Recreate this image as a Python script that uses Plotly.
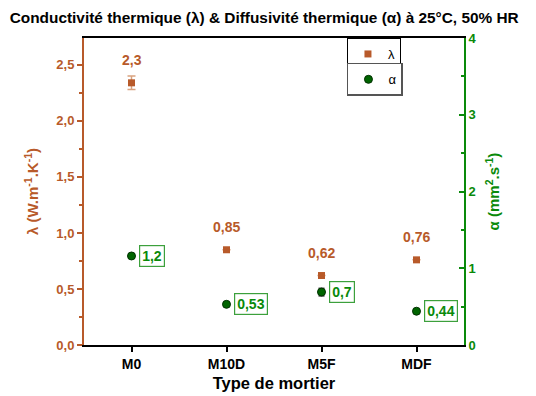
import plotly.graph_objects as go

categories = ["M0", "M10D", "M5F", "MDF"]
lam = [2.34, 0.85, 0.62, 0.76]
lam_err = [0.06, 0.0, 0.0, 0.0]
lam_labels = ["2,3", "0,85", "0,62", "0,76"]
alpha = [1.16, 0.53, 0.69, 0.44]
alpha_err = [0.03, 0.02, 0.05, 0.02]
alpha_labels = ["1,2", "0,53", "0,7", "0,44"]

BROWN = "#B85A2A"
GREEN = "#0A8A0A"
FONT = "Arial, 'Liberation Sans', sans-serif"

fig = go.Figure()
fig.add_trace(go.Scatter(
    x=categories, y=lam, mode="markers", name="λ",
    marker=dict(symbol="square", size=7, color=BROWN),
    error_y=dict(type="data", array=lam_err, color="#D9A27F", thickness=1.5, width=4),
    legend="legend", yaxis="y", showlegend=True,
))
fig.add_trace(go.Scatter(
    x=categories, y=alpha, mode="markers", name="α",
    marker=dict(symbol="circle", size=8, color="#006400", line=dict(color="#003000", width=1)),
    error_y=dict(type="data", array=alpha_err, color="#555555", thickness=1.5, width=3),
    legend="legend2", yaxis="y2", showlegend=True,
))

for c, v, t in zip(categories, lam, lam_labels):
    fig.add_annotation(x=c, y=v, yref="y", text=f"<b>{t}</b>", showarrow=False,
                       yshift=23, font=dict(color=BROWN, size=14, family=FONT))
for c, v, t in zip(categories, alpha, alpha_labels):
    fig.add_annotation(x=c, y=v, yref="y2", text=f"<b>{t}</b>", showarrow=False,
                       xanchor="left", xshift=7, font=dict(color=GREEN, size=14, family=FONT),
                       bordercolor="#3CA03C", borderwidth=1.2, borderpad=2, bgcolor="white")

# page body has an 8px offset; margins compensate so the chart lands where the reference has it
fig.update_layout(
    width=536, height=396,
    margin=dict(l=76, r=80, t=30, b=59),
    showlegend=True,
    paper_bgcolor="white", plot_bgcolor="white",
    separators=", ",
    font=dict(family=FONT, size=12, color="black"),
    title=dict(text="<b>Conductivité thermique (λ) & Diffusivité thermique (α) à 25°C, 50% HR</b>",
               x=0.478, xanchor="center", y=1 - 10 / 396, yanchor="middle",
               font=dict(size=15.4, color="black", family=FONT)),
    xaxis=dict(
        range=[-0.5, 3.5], showline=True, linecolor="black", linewidth=2, mirror=True,
        ticks="outside", tickcolor="black", ticklen=5, tickwidth=2,
        tickvals=categories, ticktext=[f"<b>{c}</b>" for c in categories],
        tickfont=dict(size=14, color="black", family=FONT),
        showgrid=False, zeroline=False, automargin=False,
        title=dict(text="<b>Type de mortier</b>", font=dict(size=16.5, color="black", family=FONT), standoff=7),
        minor=dict(ticks="outside", ticklen=3, tickcolor="black", tickwidth=2, dtick=0.5, tick0=-0.5),
    ),
    yaxis=dict(
        range=[0, 2.74], dtick=0.5, tickformat=".1f", showline=True, linecolor=BROWN, linewidth=2,
        ticks="outside", tickcolor=BROWN, ticklen=5, tickwidth=1.5,
        tickfont=dict(size=13, color=BROWN, family=FONT, weight="bold"), showgrid=False, zeroline=False,
        minor=dict(ticks="outside", ticklen=3, tickcolor=BROWN, dtick=0.25), automargin=False,
        title=dict(text="<b>λ (W.m<sup>-1</sup>.K<sup>-1</sup>)</b>", font=dict(size=15, color=BROWN, family=FONT), standoff=14),
    ),
    yaxis2=dict(
        range=[0, 4], dtick=1, overlaying="y", side="right", showline=True, linecolor=GREEN, linewidth=2,
        ticks="inside", tickcolor=GREEN, ticklen=5, tickwidth=1.5,
        tickfont=dict(size=13, color=GREEN, family=FONT, weight="bold"), showgrid=False, zeroline=False,
        minor=dict(ticks="inside", ticklen=3, tickcolor=GREEN, dtick=0.5), automargin=False,
        title=dict(text="<b>α (mm<sup>2</sup>.s<sup>-1</sup>)</b>", font=dict(size=15, color=GREEN, family=FONT), standoff=13),
    ),
    legend=dict(x=0.692, y=1.0, xanchor="left", yanchor="top", bordercolor="black", borderwidth=1,
                bgcolor="white", font=dict(size=13, family=FONT), itemwidth=30),
    legend2=dict(x=0.692, y=0.919, xanchor="left", yanchor="top", bordercolor="#555555", borderwidth=1.5,
                 bgcolor="white", font=dict(size=13, family=FONT), itemwidth=30),
)

fig.write_html("out.html")
